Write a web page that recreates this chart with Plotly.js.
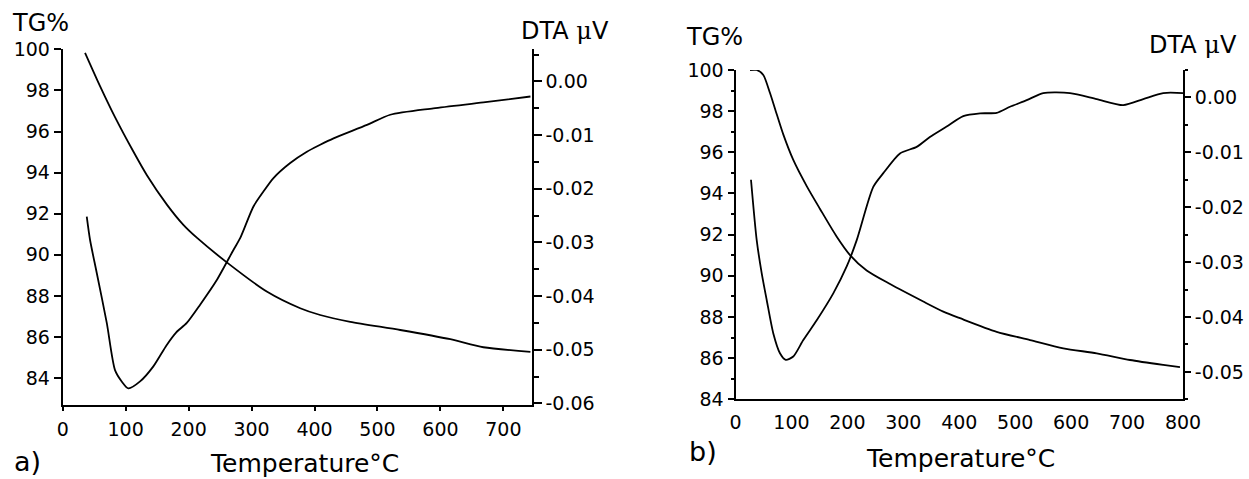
<!DOCTYPE html>
<html>
<head>
<meta charset="utf-8">
<script src="https://cdn.plot.ly/plotly-3.0.1.min.js"></script>
<style>
  html, body { margin: 0; padding: 0; background: #fff; }
  #chart { width: 1249px; height: 479px; }
</style>
</head>
<body>
<div id="chart"></div>
<script>
// ---- Sample a) : TG mass loss and DTA signal vs temperature ----
const tgATemp   = [35.5, 59.3, 83.1, 111.8, 134.0, 165.8, 191.3, 213.5, 261.2, 324.8, 377.3, 409, 456.8, 536.2, 615.7, 668.2, 743];
const tgAMass   = [99.83, 98.21, 96.70, 95.05, 93.86, 92.43, 91.47, 90.82, 89.62, 88.2, 87.4, 87.07, 86.74, 86.34, 85.89, 85.5, 85.28];
const dtaATemp  = [38.2, 43.4, 54.1, 70, 83.1, 94.3, 104.3, 122.9, 144, 165.3, 180.1, 197.1, 218.3, 244.8, 271.2, 281.9, 303, 318.9, 334.8, 361.4, 387.9, 409, 430.2, 483.3, 520.3, 588.7, 668.2, 743];
const dtaASignal = [-0.0252, -0.0295, -0.0357, -0.0450, -0.0538, -0.0560, -0.0572, -0.0559, -0.0531, -0.0491, -0.0468, -0.0450, -0.0416, -0.0370, -0.0314, -0.0292, -0.0233, -0.0205, -0.0180, -0.0152, -0.0131, -0.0118, -0.0106, -0.0081, -0.0062, -0.0050, -0.0039, -0.0028];

// ---- Sample b) ----
const tgBTemp   = [25.9, 37.9, 49.7, 61.7, 73.6, 85.4, 103.3, 127.3, 151.1, 181, 204.7, 234.5, 276.3, 335.7, 371.5, 401.3, 466.9, 526.5, 586, 645.7, 705.2, 764.7, 794.6];
const tgBMass   = [100.0, 100.0, 99.76, 98.88, 97.86, 96.87, 95.63, 94.36, 93.25, 91.9, 91.01, 90.26, 89.6, 88.75, 88.26, 87.94, 87.28, 86.88, 86.48, 86.23, 85.91, 85.67, 85.56];
const dtaBTemp  = [27.7, 37.9, 46.8, 55.8, 67.6, 79.5, 89.7, 103.3, 121.2, 145.2, 174.8, 198.8, 216.7, 246.3, 264.2, 294, 323.9, 347.5, 377.5, 407.2, 437.3, 466.9, 490.6, 520.6, 550.2, 598, 645.7, 693.2, 729, 764.7, 800];
const dtaBSignal = [-0.0150, -0.0260, -0.0320, -0.0369, -0.0430, -0.0466, -0.0478, -0.0472, -0.0442, -0.0406, -0.0357, -0.0308, -0.0260, -0.0163, -0.0138, -0.0102, -0.0090, -0.0072, -0.0053, -0.0034, -0.0029, -0.0028, -0.0017, -0.0005, 0.0008, 0.0008, -0.0003, -0.0014, -0.0003, 0.0008, 0.0008];

// ---- Tick labels ----
const tempTicksA = [0, 100, 200, 300, 400, 500, 600, 700];
const tempTicksB = [0, 100, 200, 300, 400, 500, 600, 700, 800];
const tgTicks    = [84, 86, 88, 90, 92, 94, 96, 98, 100];
const dtaTicksA  = [0, -0.01, -0.02, -0.03, -0.04, -0.05, -0.06];
const dtaTextA   = ['0.00', '-0.01', '-0.02', '-0.03', '-0.04', '-0.05', '-0.06'];
const dtaTicksB  = [0, -0.01, -0.02, -0.03, -0.04, -0.05];
const dtaTextB   = ['0.00', '-0.01', '-0.02', '-0.03', '-0.04', '-0.05'];

const W = 1249, H = 479;
const px = v => v / W;          // pixel -> paper x
const py = v => 1 - v / H;      // pixel -> paper y

const FONT = 'DejaVu Sans, Arial, sans-serif';
const tickFont = { family: FONT, size: 19, color: '#000' };
const lineStyle = { color: '#000', width: 1.8, shape: 'spline', smoothing: 0.7 };

const baseAxis = {
  showgrid: false, zeroline: false, showline: true,
  linecolor: '#000', linewidth: 2,
  ticks: 'outside', tickcolor: '#000', tickwidth: 2,
  tickfont: tickFont, fixedrange: true
};
const tickOnly = {
  showgrid: false, zeroline: false, showline: false, showticklabels: false,
  ticks: 'outside', tickcolor: '#000', tickwidth: 2, fixedrange: true
};

const traces = [
  { x: tgATemp,  y: tgAMass,   xaxis: 'x',  yaxis: 'y',  type: 'scatter', mode: 'lines', line: lineStyle, name: 'TG a' },
  { x: dtaATemp, y: dtaASignal, xaxis: 'x',  yaxis: 'y2', type: 'scatter', mode: 'lines', line: lineStyle, name: 'DTA a' },
  { x: tgBTemp,  y: tgBMass,   xaxis: 'x2', yaxis: 'y3', type: 'scatter', mode: 'lines', line: lineStyle, name: 'TG b' },
  { x: dtaBTemp, y: dtaBSignal, xaxis: 'x2', yaxis: 'y4', type: 'scatter', mode: 'lines', line: lineStyle, name: 'DTA b' }
];

const domXA = [px(62.7), px(531.7)];
const domYA = [py(405), py(49.3)];
const domXB = [px(735.5), px(1183)];
const domYB = [py(399.3), py(70)];

const layout = {
  width: W, height: H,
  margin: { l: 0, r: 0, t: 0, b: 0 },
  paper_bgcolor: '#fff', plot_bgcolor: '#fff',
  showlegend: false,
  font: { family: FONT, color: '#000' },

  // panel a
  xaxis: Object.assign({}, baseAxis, {
    domain: domXA, anchor: 'y', range: [0, 745],
    tickmode: 'array', tickvals: tempTicksA, ticklen: 4, ticklabelstandoff: 2
  }),
  xaxis3: Object.assign({}, tickOnly, {
    overlaying: 'x', anchor: 'y', range: [0, 745],
    tickmode: 'linear', tick0: 0, dtick: 200, ticklen: 8
  }),
  yaxis: Object.assign({}, baseAxis, {
    domain: domYA, anchor: 'x', range: [82.69, 100],
    tickmode: 'array', tickvals: tgTicks, ticklen: 7
  }),
  yaxis2: Object.assign({}, baseAxis, {
    overlaying: 'y', side: 'right', anchor: 'x', range: [-0.0603, 0.0060],
    tickmode: 'array', tickvals: dtaTicksA, ticktext: dtaTextA, ticklen: 8,
    minor: { tickmode: 'linear', tick0: 0.005, dtick: 0.01, ticks: 'outside', ticklen: 5, tickwidth: 2, tickcolor: '#000' }
  }),

  // panel b
  xaxis2: Object.assign({}, baseAxis, {
    domain: domXB, anchor: 'y3', range: [0, 800],
    tickmode: 'array', tickvals: tempTicksB, ticks: '', ticklabelstandoff: 5
  }),
  xaxis4: Object.assign({}, tickOnly, {
    overlaying: 'x2', anchor: 'y3', range: [0, 700],
    tickmode: 'linear', tick0: 0, dtick: 100, ticklen: 6,
    minor: { tickmode: 'linear', tick0: 0, dtick: 50, ticks: 'outside', ticklen: 3, tickwidth: 2, tickcolor: '#000' }
  }),
  yaxis3: Object.assign({}, baseAxis, {
    domain: domYB, anchor: 'x2', range: [84, 100],
    tickmode: 'array', tickvals: tgTicks, ticklen: 6,
    minor: { tickmode: 'linear', tick0: 85, dtick: 2, ticks: 'outside', ticklen: 3, tickwidth: 2, tickcolor: '#000' }
  }),
  yaxis4: Object.assign({}, baseAxis, {
    overlaying: 'y3', side: 'right', anchor: 'x2', range: [-0.055, 0.005],
    tickmode: 'array', tickvals: dtaTicksB, ticktext: dtaTextB, ticklen: 6,
    minor: { tickmode: 'linear', tick0: 0.005, dtick: 0.01, ticks: 'outside', ticklen: 3, tickwidth: 2, tickcolor: '#000' }
  }),

  annotations: [
    { text: 'TG%', x: px(40), y: py(23), size: 24 },
    { text: 'DTA <span style="font-family:DejaVu Serif">μ</span>V', x: px(565), y: py(31), size: 24 },
    { text: 'Temperature°C', x: px(304), y: py(463), size: 25 },
    { text: 'a)', x: px(28), y: py(461), size: 27 },
    { text: 'TG%', x: px(715), y: py(37), size: 24 },
    { text: 'DTA <span style="font-family:DejaVu Serif">μ</span>V', x: px(1193), y: py(45), size: 24 },
    { text: 'Temperature°C', x: px(960), y: py(458), size: 25 },
    { text: 'b)', x: px(703), y: py(451), size: 27 }
  ].map(a => ({
    text: a.text, x: a.x, y: a.y, xref: 'paper', yref: 'paper',
    xanchor: 'center', yanchor: 'middle', showarrow: false,
    font: { family: FONT, size: a.size, color: '#000' }
  }))
};

Plotly.newPlot('chart', traces, layout, { staticPlot: true, displayModeBar: false });
</script>
</body>
</html>
